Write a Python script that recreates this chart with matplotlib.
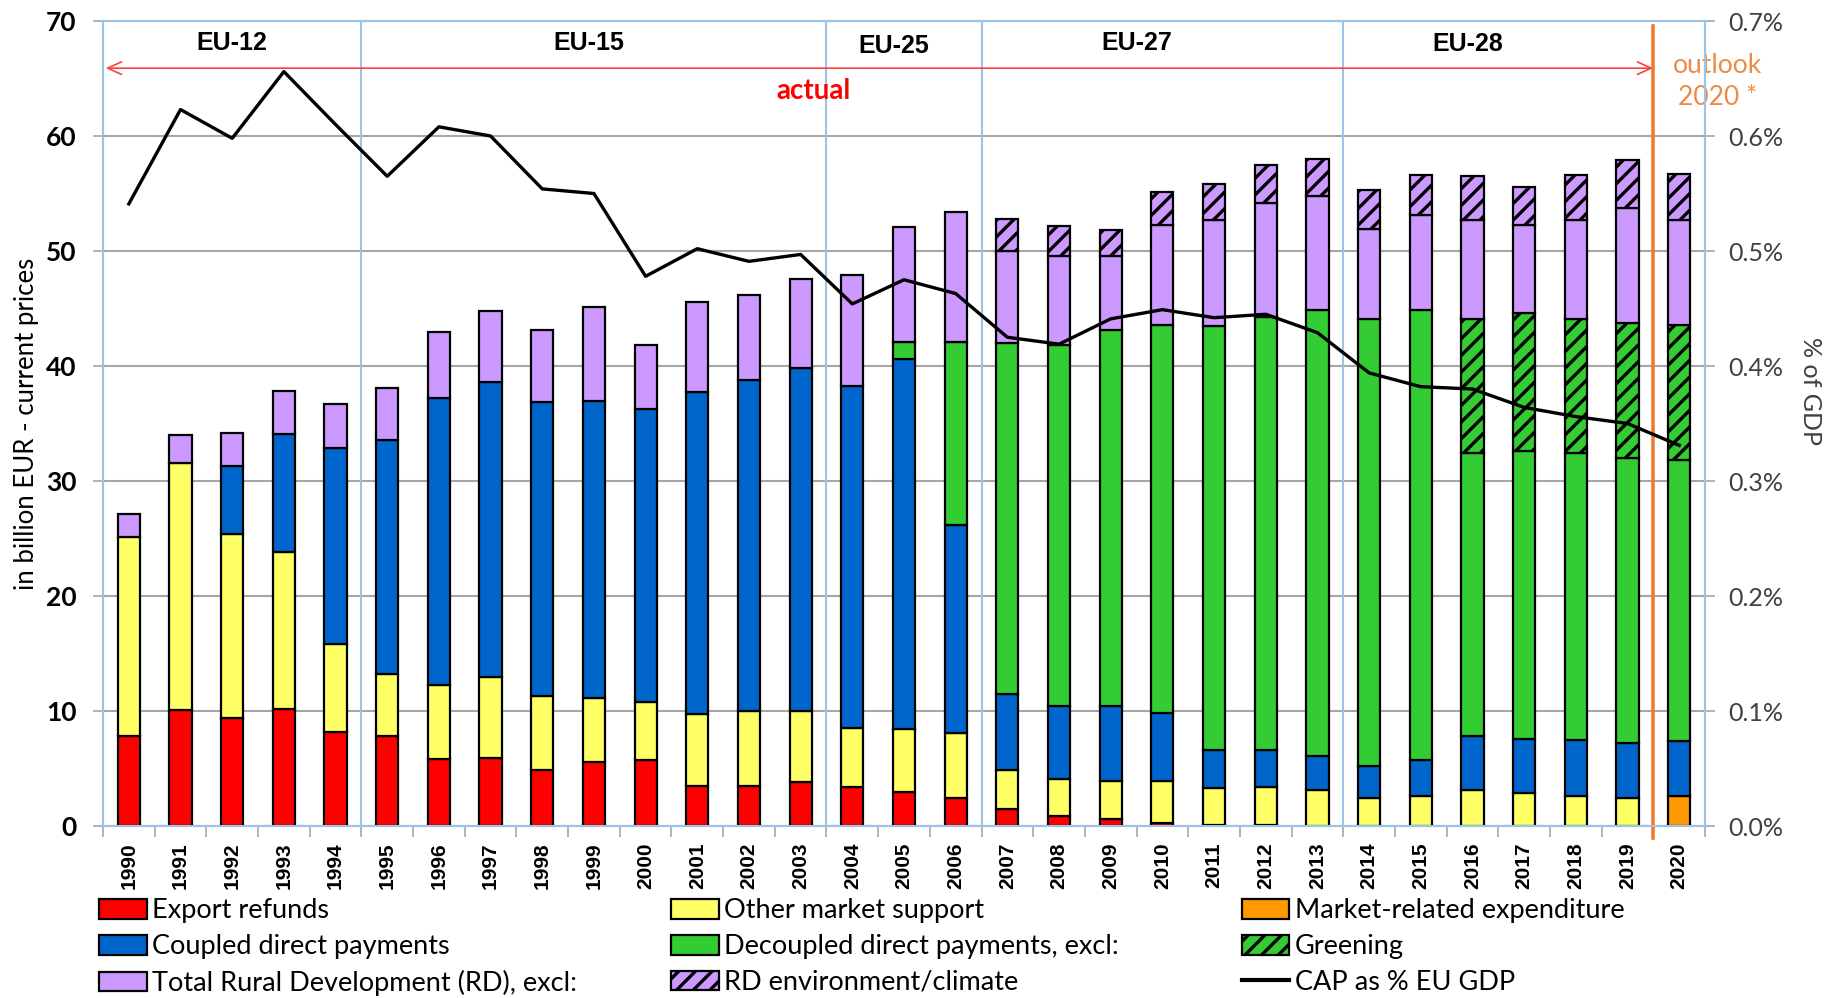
import numpy as np
import matplotlib.pyplot as plt
from matplotlib.patches import Patch
from matplotlib.lines import Line2D
from matplotlib.ticker import PercentFormatter

plt.rcParams['hatch.linewidth'] = 2.4

years = [str(y) for y in range(1990, 2021)]

# billion EUR, segment heights (bottom to top)
export_refunds = [7.8, 10.1, 9.4, 10.2, 8.2, 7.8, 5.8, 5.9, 4.9, 5.6, 5.7, 3.5, 3.5, 3.8, 3.4, 3.0,
                  2.4, 1.5, 0.9, 0.6, 0.3, 0.1, 0.1, 0, 0, 0, 0, 0, 0, 0, 0]
market_related = [0] * 30 + [2.6]
other_support = [17.3, 21.5, 16.0, 13.6, 7.6, 5.4, 6.5, 7.1, 6.4, 5.5, 5.1, 6.2, 6.5, 6.2, 5.1, 5.4,
                 5.7, 3.4, 3.2, 3.3, 3.6, 3.2, 3.3, 3.1, 2.4, 2.6, 3.1, 2.9, 2.6, 2.4, 0]
coupled_dp = [0, 0, 5.9, 10.3, 17.1, 20.4, 24.9, 25.6, 25.6, 25.9, 25.5, 28.0, 28.8, 29.8, 29.8, 32.2,
              18.1, 6.6, 6.3, 6.5, 5.9, 3.3, 3.2, 3.0, 2.8, 3.1, 4.7, 4.7, 4.9, 4.8, 4.8]
decoupled_dp = [0] * 15 + [1.5, 15.9, 30.5, 31.4, 32.7, 33.8, 36.9, 37.7, 38.8, 38.9, 39.2,
                           24.6, 25.0, 24.9, 24.8, 24.4]
greening = [0] * 26 + [11.7, 12.0, 11.7, 11.7, 11.8]
rural_dev = [2.0, 2.4, 2.9, 3.7, 3.8, 4.5, 5.8, 6.2, 6.2, 8.1, 5.5, 7.9, 7.4, 7.8, 9.6, 10.0,
             11.3, 8.0, 7.8, 6.5, 8.7, 9.2, 9.9, 9.9, 7.8, 8.2, 8.6, 7.7, 8.6, 10.0, 9.1]
rd_env = [0] * 17 + [2.8, 2.6, 2.2, 2.8, 3.1, 3.3, 3.2, 3.4, 3.5, 3.8, 3.3, 3.9, 4.2, 4.0]

# CAP as % of EU GDP
cap_gdp = [0.541, 0.623, 0.598, 0.656, 0.610, 0.565, 0.608, 0.600, 0.554, 0.550, 0.478, 0.502,
           0.491, 0.497, 0.454, 0.475, 0.463, 0.425, 0.419, 0.441, 0.449, 0.442, 0.445, 0.429,
           0.394, 0.382, 0.380, 0.364, 0.356, 0.350, 0.331]

eu_labels = ['EU-12', 'EU-15', 'EU-25', 'EU-27', 'EU-28']
eu_label_x = [2.0, 8.9, 14.8, 19.5, 25.9]
eu_label_y = [68.1, 68.1, 67.8, 68.1, 68.0]
eu_borders = [4.5, 13.5, 16.5, 23.5]

series = [
    ('Export refunds', export_refunds, '#FF0000', None),
    ('Market-related expenditure', market_related, '#FF9900', None),
    ('Other market support', other_support, '#FFFF66', None),
    ('Coupled direct payments', coupled_dp, '#0066CC', None),
    ('Decoupled direct payments, excl:', decoupled_dp, '#33CC33', None),
    ('Greening', greening, '#33CC33', '//'),
    ('Total Rural Development (RD), excl:', rural_dev, '#CC99FF', None),
    ('RD environment/climate', rd_env, '#CC99FF', '//'),
]

fig = plt.figure(figsize=(18.29, 9.98), dpi=100)
ax = fig.add_axes([103 / 1829, 1 - 826 / 998, 1602 / 1829, 805 / 998])
x = np.arange(len(years))
light_blue = '#9DC3E6'

bottom = np.zeros(len(years))
for name, vals, color, hatch in series:
    vals = np.array(vals, dtype=float)
    m = vals > 0
    ax.bar(x[m], vals[m], bottom=bottom[m], width=0.43, color=color, edgecolor='black',
           linewidth=1.6, hatch=hatch, zorder=3)
    bottom += vals

ax.set_xlim(-0.5, len(years) - 0.5)
ax.set_ylim(0, 70)
ax.set_yticks(range(0, 71, 10))
ax.grid(axis='y', color='#A6A6A6', linewidth=1.5, zorder=0)
ax.set_axisbelow(True)
for s in ax.spines.values():
    s.set_color(light_blue)
    s.set_linewidth(1.5)

ax.set_xticks(x)
ax.set_xticklabels(years, rotation=90, fontsize=15, fontweight='bold', family='Liberation Sans',
                   va='top')
ax.set_xticks(np.arange(-0.5, len(years), 1), minor=True)
ax.tick_params(axis='x', which='major', length=0, pad=12)
ax.tick_params(axis='x', which='minor', length=8, color='#A6A6A6', width=1.2)
ax.tick_params(axis='y', length=7, color='#A6A6A6', width=1.2, pad=12)
for lab in ax.get_yticklabels():
    lab.set_fontfamily('Lato')
    lab.set_fontweight('bold')
    lab.set_fontsize(19)
ax.set_ylabel('in billion EUR - current prices', fontsize=18.5, family='Lato', va='center')
ax.yaxis.set_label_coords(-0.048, 0.5)

for b in eu_borders:
    ax.axvline(b, color=light_blue, linewidth=1.5, zorder=1)
for lab, lx, ly in zip(eu_labels, eu_label_x, eu_label_y):
    ax.text(lx, ly, lab, ha='center', va='center', fontsize=18, fontweight='bold',
            family='Liberation Sans', zorder=5)

ax.annotate('', xy=(-0.45, 65.9), xytext=(29.5, 65.9),
            arrowprops=dict(arrowstyle='<->,head_length=1.0,head_width=0.45', color='#FF4040', lw=1.2,
                            shrinkA=0, shrinkB=0), zorder=5)
ax.text(13.25, 63.9, 'actual', color='#FF0000', fontsize=20, fontweight='bold', family='Lato',
        ha='center', va='center', zorder=5)
ax.plot([29.5, 29.5], [69.6, -1.0], color='#ED7D31', linewidth=2.6, clip_on=False, zorder=6)
ax.text(30.74, 64.7, 'outlook\n2020 *', color='#EE8A45', fontsize=19, family='Lato',
        ha='center', va='center', linespacing=1.35, clip_on=False, zorder=6)

ax2 = ax.twinx()
ax2.plot(x, np.array(cap_gdp) / 100, color='black', linewidth=2.4, zorder=6)
ax2.set_ylim(0, 0.007)
ax2.set_yticks(np.arange(0, 0.0071, 0.001))
ax2.yaxis.set_major_formatter(PercentFormatter(1.0, decimals=1))
ax2.tick_params(axis='y', length=7, color='#A6A6A6', width=1.2, pad=10, labelsize=18,
                labelcolor='#404040')
for lab in ax2.get_yticklabels():
    lab.set_fontfamily('Lato')
for s in ax2.spines.values():
    s.set_color(light_blue)
    s.set_linewidth(1.5)
ax2.set_ylabel('% of GDP', fontsize=18, family='Lato', rotation=-90, color='#404040',
               va='center', ha='center')
ax2.yaxis.set_label_coords(1.066, 0.54)

def patch(i):
    name, vals, color, hatch = series[i]
    return Patch(facecolor=color, edgecolor='black', hatch=hatch, linewidth=1.6, label=name)

columns = [
    [patch(0), patch(3), patch(6)],
    [patch(2), patch(4), patch(7)],
    [patch(1), patch(5), Line2D([], [], color='black', linewidth=3, label='CAP as % EU GDP')],
]
col_x = [0.0542, 0.367, 0.679]
for handles, cx in zip(columns, col_x):
    leg = fig.legend(handles=handles, loc='upper left', bbox_to_anchor=(cx, 0.100), frameon=False,
                     borderpad=0, borderaxespad=0, handlelength=1.75, handleheight=0.75,
                     handletextpad=0.2, labelspacing=0.4, prop={'family': 'Lato', 'size': 19.5})

fig.savefig('out.png', dpi=100)
